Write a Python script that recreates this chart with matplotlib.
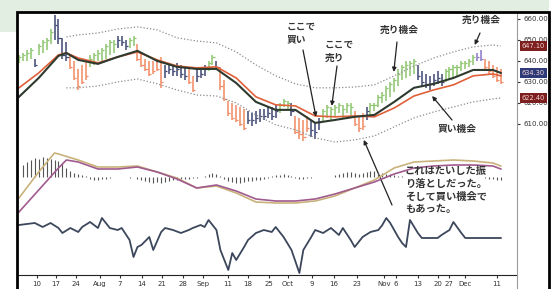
import numpy as np
import matplotlib.pyplot as plt
from matplotlib.patches import Rectangle
from matplotlib.lines import Line2D

# daily bars (Elder impulse colours: g=up, r=down, k=neutral, b=purple)
high = [643, 644, 645, 646, 641, 648, 650, 651, 655, 662,
        660, 651, 649, 643, 640, 636, 638, 640, 643, 644,
        645, 646, 648, 650, 650, 652, 652, 650, 651, 652,
        648, 644, 641, 640, 640, 641, 642, 638, 639, 638,
        639, 638, 637, 636, 633, 636, 637, 638, 640, 643,
        640, 637, 631, 621, 620, 619, 618, 617, 616, 615,
        616, 617, 617, 618, 618, 619, 620, 622, 621, 620,
        614, 613, 612, 614, 612, 611, 613, 617, 619, 618,
        619, 620, 619, 620, 620, 616, 614, 615, 618, 620,
        620, 624, 625, 628, 630, 632, 636, 638, 640, 640,
        641, 638, 635, 634, 633, 634, 635, 634, 636, 637,
        638, 638, 640, 640, 641, 643, 644, 645, 641, 640,
        638, 637, 636]
low = [639, 640, 640, 641, 637, 643, 644, 645, 648, 650,
       648, 641, 640, 636, 631, 626, 629, 631, 637, 638,
       640, 640, 641, 643, 644, 646, 647, 645, 646, 647,
       640, 637, 635, 633, 634, 635, 627, 632, 634, 633,
       633, 632, 631, 629, 625, 630, 632, 633, 635, 638,
       636, 626, 621, 614, 612, 611, 609, 607, 610, 609,
       610, 611, 612, 613, 612, 613, 615, 618, 617, 614,
       605, 603, 602, 606, 604, 603, 607, 611, 613, 612,
       614, 615, 613, 615, 614, 609, 606, 607, 612, 614,
       616, 618, 620, 621, 623, 625, 628, 631, 632, 633,
       634, 631, 628, 627, 626, 628, 629, 628, 630, 631,
       632, 633, 635, 636, 637, 638, 640, 640, 636, 634,
       632, 630, 629]
close = [642, 643, 644, 645, 638, 647, 649, 650, 654, 657,
         651, 643, 642, 637, 632, 628, 630, 633, 641, 643,
         644, 645, 647, 649, 648, 650, 649, 647, 650, 651,
         641, 638, 636, 634, 635, 636, 630, 635, 636, 635,
         636, 634, 633, 630, 626, 633, 634, 636, 639, 642,
         637, 628, 622, 615, 613, 612, 610, 608, 612, 612,
         613, 614, 614, 615, 614, 616, 619, 621, 620, 616,
         606, 605, 604, 608, 607, 606, 611, 616, 618, 617,
         618, 619, 617, 619, 618, 610, 608, 609, 616, 619,
         619, 623, 624, 627, 629, 631, 634, 637, 638, 639,
         640, 633, 630, 629, 629, 631, 632, 630, 635, 636,
         637, 637, 639, 639, 640, 642, 642, 641, 637, 635,
         633, 631, 630]
impulse = ("ggggkggggk" "kkkrrrrrgg" "gggggkkkgg" "rrrrrrrkkk" "kkkrrkkkgg"
           "krrrrrrrkk" "kkkkkkgggk" "rrrrkkkggg" "gggggrrrkg" "gggggggggg"
           "gkkkkkkkgg" "ggggggbbrr" "rrr")

# moving averages read at weekly points
ema_idx = [0, 5, 10, 12, 15, 20, 25, 30, 35, 40, 45, 50, 55, 60, 65, 70, 75,
           80, 85, 90, 95, 100, 105, 110, 115, 120, 122]
ema_fast = [622.9, 631.9, 642.4, 643.8, 640.5, 638.6, 641.9, 644.8, 640.0, 637.2,
            636.2, 636.2, 629.5, 620.5, 616.7, 616.7, 610.5, 611.9, 613.4, 614.3,
            620.5, 627.2, 629.1, 631.9, 635.7, 635.7, 634.3]
ema_slow = [627.2, 634.3, 642.9, 643.8, 641.4, 639.1, 641.9, 644.3, 640.5, 637.6,
            636.7, 637.2, 631.9, 622.9, 619.1, 618.6, 613.8, 613.4, 613.8, 613.4,
            617.6, 623.3, 626.2, 628.6, 632.9, 633.8, 632.9]
env_idx = [12, 15, 20, 25, 30, 35, 40, 45, 50, 55, 60, 65, 70, 75, 80, 85, 90,
           95, 100, 105, 110, 115, 120, 122]
env_upper = [651.4, 652.4, 653.3, 655.2, 656.2, 654.8, 651.0, 649.5, 648.6, 644.3,
             638.1, 632.9, 629.1, 627.2, 627.2, 627.6, 628.6, 632.9, 637.6, 641.4,
             644.3, 646.7, 647.6, 647.1]
env_lower = [627.2, 627.2, 628.1, 630.0, 631.4, 629.1, 626.2, 623.8, 623.3, 620.0,
             614.3, 609.6, 607.2, 603.4, 601.4, 602.4, 604.3, 608.6, 612.9, 615.7,
             618.1, 620.5, 621.9, 622.4]

# MACD
macd_idx = [0, 5, 9, 10, 15, 20, 25, 30, 35, 40, 45, 50, 55, 60, 65, 70, 75,
            80, 85, 90, 95, 100, 105, 110, 115, 120, 122]
macd = [-2.1, 0.5, 2.4, 2.3, 1.7, 1.0, 1.0, 1.1, 0.5, -0.1, -1.1, -0.9, -1.6, -2.5,
        -2.6, -2.6, -2.4, -1.9, -1.1, -0.3, 0.9, 1.5, 1.6, 1.7, 1.6, 1.4, 1.1]
signal_idx = [0, 5, 10, 12, 15, 20, 25, 30, 35, 40, 45, 50, 55, 60, 65, 70, 75,
              80, 85, 90, 95, 100, 105, 110, 115, 120, 122]
signal = [-3.5, -1.3, 0.9, 1.7, 1.5, 0.8, 0.8, 1.0, 0.5, -0.2, -1.1, -0.8, -1.4, -2.2,
          -2.4, -2.4, -2.2, -1.7, -1.1, -0.5, 0.3, 0.9, 1.1, 1.2, 1.2, 1.1, 0.8]
hist = [0, 1.2, 1.5, 1.7, 1.9, 1.8, 2.0, 1.9, 1.8, 1.7,
        1.6, 1.4, 0.9, 0.6, 0.4, 0.3, 0.2, 0.1, -0.2, -0.3,
        -0.3, -0.2, -0.2, -0.1, 0.0, 0.05, 0.05, 0.0, -0.05, 0.0,
        -0.2, -0.3, -0.4, -0.5, -0.6, -0.5, -0.6, -0.5, -0.4, -0.3,
        -0.3, -0.2, -0.2, -0.2, -0.1, -0.1, 0.0, 0.1, 0.3, 0.4,
        0.3, 0.1, -0.2, -0.4, -0.5, -0.6, -0.6, -0.5, -0.4, -0.4,
        -0.3, -0.3, -0.2, -0.1, 0.1, 0.2, 0.2, 0.3, 0.2, 0.1,
        -0.1, -0.2, -0.2, -0.1, -0.1, 0.0, 0.0, 0.05, 0.05, 0.05,
        0.2, 0.3, 0.4, 0.5, 0.5, 0.4, 0.3, 0.4, 0.5, 0.6,
        0.6, 0.5, 0.4, 0.3, 0.3, 0.2, 0.1, 0.1, 0.05, 0.0,
        0, 0, 0, 0, 0, 0, 0, 0, 0, 0,
        0, 0, 0, 0, 0, 0, 0, 0, -0.1, -0.2,
        -0.2, -0.3, -0.3]

# force index
force_idx = [0, 4, 6, 8, 10, 11, 13, 15, 16, 18, 20, 21, 23, 25, 26, 28, 29, 30, 31, 33,
             34, 36, 37, 39, 41, 43, 44, 46, 47, 48, 50, 51, 52, 53, 54, 55, 57, 58, 60, 62,
             64, 65, 67, 69, 71, 72, 74, 75, 77, 79, 81, 82, 84, 85, 87, 89, 91, 92, 93, 94,
             96, 97, 98, 99, 101, 102, 103, 106, 107, 109, 110, 112, 113, 122]
force = [2.6, 3.0, 2.2, 3.0, 2.0, 1.0, 2.0, 1.2, 2.2, 3.2, 2.0, 4.0, 2.0, 1.6, 2.0, -0.4,
         -3.8, -1.8, -1.4, 0.2, -2.4, 1.2, 2.0, 1.6, 1.0, 1.6, 2.0, 2.6, 2.2, 3.6, 1.6,
         -2.4, -4.4, -6.4, -3.0, -4.4, -1.8, -0.4, 1.0, 1.6, 1.2, 2.2, 0.2, -2.4, -7.0,
         -2.4, 0.2, 1.6, 1.0, 2.0, 0.6, 2.0, -0.4, -1.8, 0.2, 1.2, 1.6, 2.6, 4.0, 3.0,
         0.2, -1.0, -1.8, 3.6, 1.0, 0.0, 0.0, 0.0, 0.6, 1.6, 3.2, 1.0, 0.0, 0.0]

tick_pos = [4.6, 9.4, 14.4, 20.5, 25.6, 31.1, 36.2, 41.5, 46.6, 52.9, 58.0, 63.3,
            68.1, 74.2, 79.7, 85.6, 92.4, 95.4, 101.0, 106.1, 108.9, 112.9, 121.0]
tick_lab = ["10", "17", "24", "Aug", "7", "14", "21", "28", "Sep", "11", "18", "25",
            "Oct", "9", "16", "23", "Nov", "6", "13", "20", "27", "Dec", "11"]
price_ticks = [610, 620, 630, 640, 650, 660]

W, H = 553, 289
JP = ["Noto Sans CJK JP", "DejaVu Sans"]
bar_col = {"g": "#8cc46e", "r": "#f08a62", "k": "#3d4672", "b": "#8a78c8"}

fig = plt.figure(figsize=(W / 100, H / 100), dpi=100)
fig.patch.set_facecolor("white")


def box(l, t, r, b):
    return [l / W, 1 - b / H, (r - l) / W, (b - t) / H]


ax_p = fig.add_axes(box(17, 12, 517, 150))
ax_m = fig.add_axes(box(17, 148, 517, 215))
ax_f = fig.add_axes(box(17, 212, 517, 275))
for a in (ax_p, ax_m, ax_f):
    a.set_xlim(-0.5, 126.1)
    a.patch.set_alpha(0)
    for s in a.spines.values():
        s.set_visible(False)
    a.set_xticks([])
    a.set_yticks([])

# price panel
idx = np.arange(len(close))
cols = [bar_col[c] for c in impulse]
ax_p.vlines(idx, low, high, colors=cols, lw=1.1)
ax_p.hlines(close, idx, idx + 0.55, colors=cols, lw=0.9)
ax_p.plot(env_idx, env_upper, color="#8c8c8c", lw=0.9, ls=(0, (1, 1.6)))
ax_p.plot(env_idx, env_lower, color="#8c8c8c", lw=0.9, ls=(0, (1, 1.6)))
ax_p.plot(ema_idx, ema_slow, color="#e0603a", lw=1.2)
ax_p.plot(ema_idx, ema_fast, color="#2e3a2e", lw=1.5)
ax_p.set_ylim(597.6, 663.3)
ax_p.yaxis.tick_right()
ax_p.set_yticks(price_ticks)
ax_p.set_yticklabels([f"{v:.2f}" for v in price_ticks])
ax_p.tick_params(axis="y", length=2, pad=2.5, labelsize=5, colors="#333333")

for val, fc in ((env_upper[-1], "#7d1f1f"), (ema_fast[-1], "#2f3a78"), (env_lower[-1], "#7d1f1f")):
    ax_p.text(1.01, val, f"{val:.2f}", transform=ax_p.get_yaxis_transform(), ha="left",
              va="center", fontsize=4.8, color="#f3d6d6", clip_on=False, zorder=5,
              bbox=dict(boxstyle="square,pad=0.25", fc=fc, ec="none"))

# macd panel
ax_m.vlines(idx, 0, hist, colors="#555555", lw=0.8)
ax_m.plot(macd_idx, macd, color="#c9b27a", lw=1.2)
ax_m.plot(signal_idx, signal, color="#a05a8e", lw=1.2)
ax_m.set_ylim(-3.8, 2.9)

# force index panel
ax_f.plot(force_idx, force, color="#3c475c", lw=1.3)
ax_f.set_ylim(-7.4, 5.2)
ax_f.spines["bottom"].set_visible(True)
ax_f.spines["bottom"].set_color("#222222")
ax_f.spines["bottom"].set_linewidth(0.8)
ax_f.set_xticks(tick_pos)
ax_f.set_xticklabels(tick_lab)
ax_f.tick_params(axis="x", length=2, pad=2, labelsize=5, colors="#333333")

# background bands, frame and divider
fig.patches.append(Rectangle((0, 1 - 12 / H), 549 / W, 12 / H, transform=fig.transFigure,
                             fc="#e3eee3", ec="none", zorder=0))
fig.patches.append(Rectangle((0, 1 - 32 / H), 17 / W, 20 / H, transform=fig.transFigure,
                             fc="#e3eee3", ec="none", zorder=0))
fig.patches.append(Rectangle((17 / W, -0.05), 532 / W, 1.05 - 12 / H, transform=fig.transFigure,
                             fill=False, ec="black", lw=2, zorder=10))
fig.lines.append(Line2D([517 / W, 517 / W], [0, 1 - 12 / H], transform=fig.transFigure,
                        color="#9a9a9a", lw=0.8, zorder=9))

# annotations
notes = [
    ("ここで\n買い", 287, 22, 7, 1.3, (75.2, 613.4), (303, 50)),
    ("ここで\n売り", 325, 40, 7, 1.3, (79.2, 618.6), (337, 66)),
    ("売り機会", 380, 25, 7, 1.3, (94.9, 634.8), (397, 42)),
    ("売り機会", 462, 15, 7, 1.3, (115.4, 647.6), (480, 33)),
    ("買い機会", 438, 124, 7, 1.3, (104.6, 623.3), (452, 120)),
    ("これはたいした振\nり落としだった。\nそして買い機会で\nもあった。", 405, 166, 7.4, 1.35,
     (87.3, 602.4), (392, 205)),
]
for txt, tx, ty, fs, ls, tip, tail in notes:
    fig.text(tx / W, 1 - ty / H, txt, ha="left", va="top", fontsize=fs, color="#333333",
             family=JP, fontweight="bold", linespacing=ls)
    ax_p.annotate("", xy=tip, xytext=(tail[0], H - tail[1]), textcoords="figure pixels",
                  annotation_clip=False,
                  arrowprops=dict(arrowstyle="-|>", color="#222222", lw=0.9,
                                  mutation_scale=6, shrinkA=0, shrinkB=0))

fig.savefig("out.png", dpi=100)
